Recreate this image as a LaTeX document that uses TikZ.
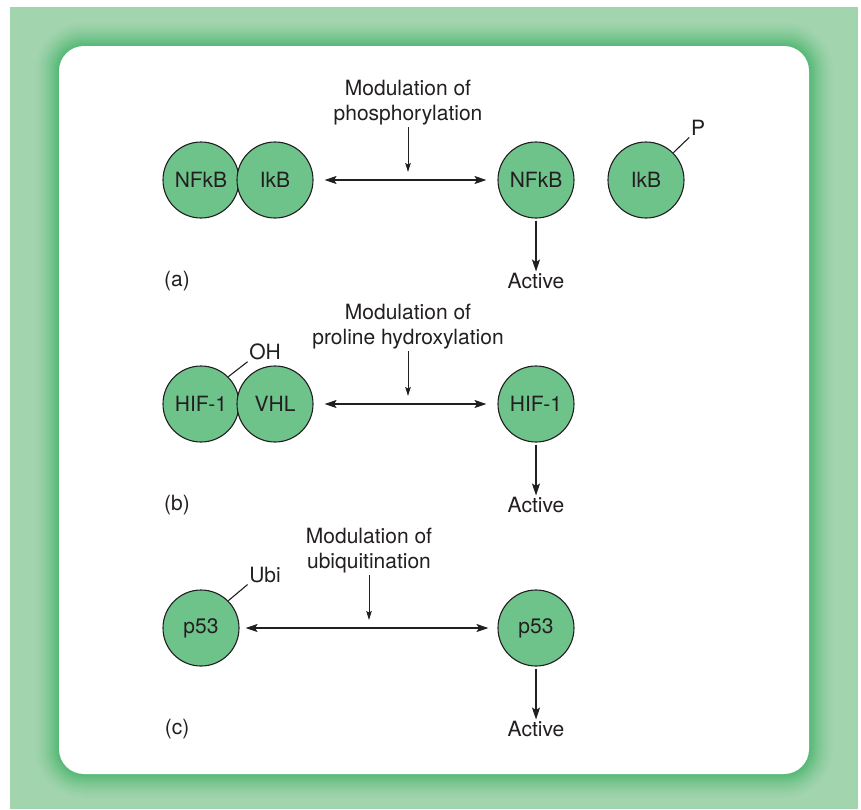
\documentclass[tikz,border=0pt]{standalone}
\usepackage{fontspec}
\setmainfont{TeX Gyre Heros}
\usetikzlibrary{arrows.meta}
\definecolor{band}{HTML}{A2D4AE}
\definecolor{glow}{HTML}{52B873}
\definecolor{mol}{HTML}{6EC38B}
\definecolor{ink}{HTML}{231F20}
\tikzset{
  molecule/.style={
    circle, draw=ink, fill=mol, line width=1.1pt,
    minimum size=76pt, inner sep=0pt, text=ink,
    font=\fontsize{21}{25}\selectfont
  },
  txt/.style={text=ink, align=center, inner sep=1.5pt, font=\fontsize{21}{25}\selectfont},
  biarrow/.style={{Stealth[length=12pt,width=8pt,inset=2.5pt]}-{Stealth[length=12pt,width=8pt,inset=2.5pt]},
    line width=1.2pt, draw=ink, shorten <=11pt, shorten >=11pt},
  modarrow/.style={-{Stealth[length=9pt,width=5.5pt,inset=1.5pt]}, line width=0.9pt, draw=ink},
  outarrow/.style={-{Stealth[length=12pt,width=8pt,inset=2.5pt]}, line width=1.2pt, draw=ink,
    shorten <=2pt},
  tag/.style={line width=1.1pt, draw=ink}
}

\begin{document}
\begin{tikzpicture}[x=1pt, y=-1pt]
    \useasboundingbox (0,0) rectangle (861,809);
    % frame: pale band, darker glow round the white panel
    \fill[band] (10,7) rectangle (858,809);
    \foreach \d in {26,25,...,1}{
      \pgfmathtruncatemacro\mix{100*(1-\d/26)^1.5}
      \pgfmathsetmacro\rad{25+\d}
      \fill[glow!\mix!band, rounded corners=\rad pt] (59-\d,46-\d) rectangle (809+\d,774+\d);
    }
    \fill[white, rounded corners=25pt] (59,46) rectangle (809,774);

    % (a) NFkB / IkB
    \node[txt] (moda) at (408,103) {Modulation of\\phosphorylation};
    \node[molecule] (nfkb) at (201,180) {NFkB};
    \node[molecule] (ikb) at (275,180) {IkB};
    \node[molecule] (nfkbfree) at (536,180) {NFkB};
    \node[molecule] (ikbfree) at (646,180) {IkB};
    \node[txt] (phos) at (698,128) {P};
    \coordinate (hita) at (408,172);
    \draw[biarrow] (ikb) -- (nfkbfree);
    \draw[modarrow] (moda) -- (hita);
    \draw[tag] (ikbfree.45) -- (phos.south west);
    \node[txt] (acta) at (536,281) {Active};
    \draw[outarrow] (nfkbfree) -- (acta);
    \node[txt] (laba) at (177,281) {(a)};

    % (b) HIF-1 / VHL
    \node[txt] (modb) at (408,327) {Modulation of\\proline hydroxylation};
    \node[molecule] (hif) at (201,404) {HIF-1};
    \node[molecule] (vhl) at (275,404) {VHL};
    \node[molecule] (hiffree) at (536,404) {HIF-1};
    \node[txt] (oh) at (265,352) {OH};
    \coordinate (hitb) at (408,396);
    \draw[biarrow] (vhl) -- (hiffree);
    \draw[modarrow] (modb) -- (hitb);
    \draw[tag] (hif.45) -- (oh.south west);
    \node[txt] (actb) at (536,505) {Active};
    \draw[outarrow] (hiffree) -- (actb);
    \node[txt] (labb) at (177,505) {(b)};

    % (c) p53
    \node[txt] (modc) at (369,551) {Modulation of\\ubiquitination};
    \node[molecule] (p53) at (201,628) {p53};
    \node[molecule] (p53free) at (536,628) {p53};
    \node[txt] (ubi) at (265,575) {Ubi};
    \coordinate (hitc) at (369,620);
    \draw[biarrow, shorten <=6pt, shorten >=9pt] (p53) -- (p53free);
    \draw[modarrow] (modc) -- (hitc);
    \draw[tag] (p53.45) -- (ubi.south west);
    \node[txt] (actc) at (536,729) {Active};
    \draw[outarrow] (p53free) -- (actc);
    \node[txt] (labc) at (177,729) {(c)};
\end{tikzpicture}
\end{document}
